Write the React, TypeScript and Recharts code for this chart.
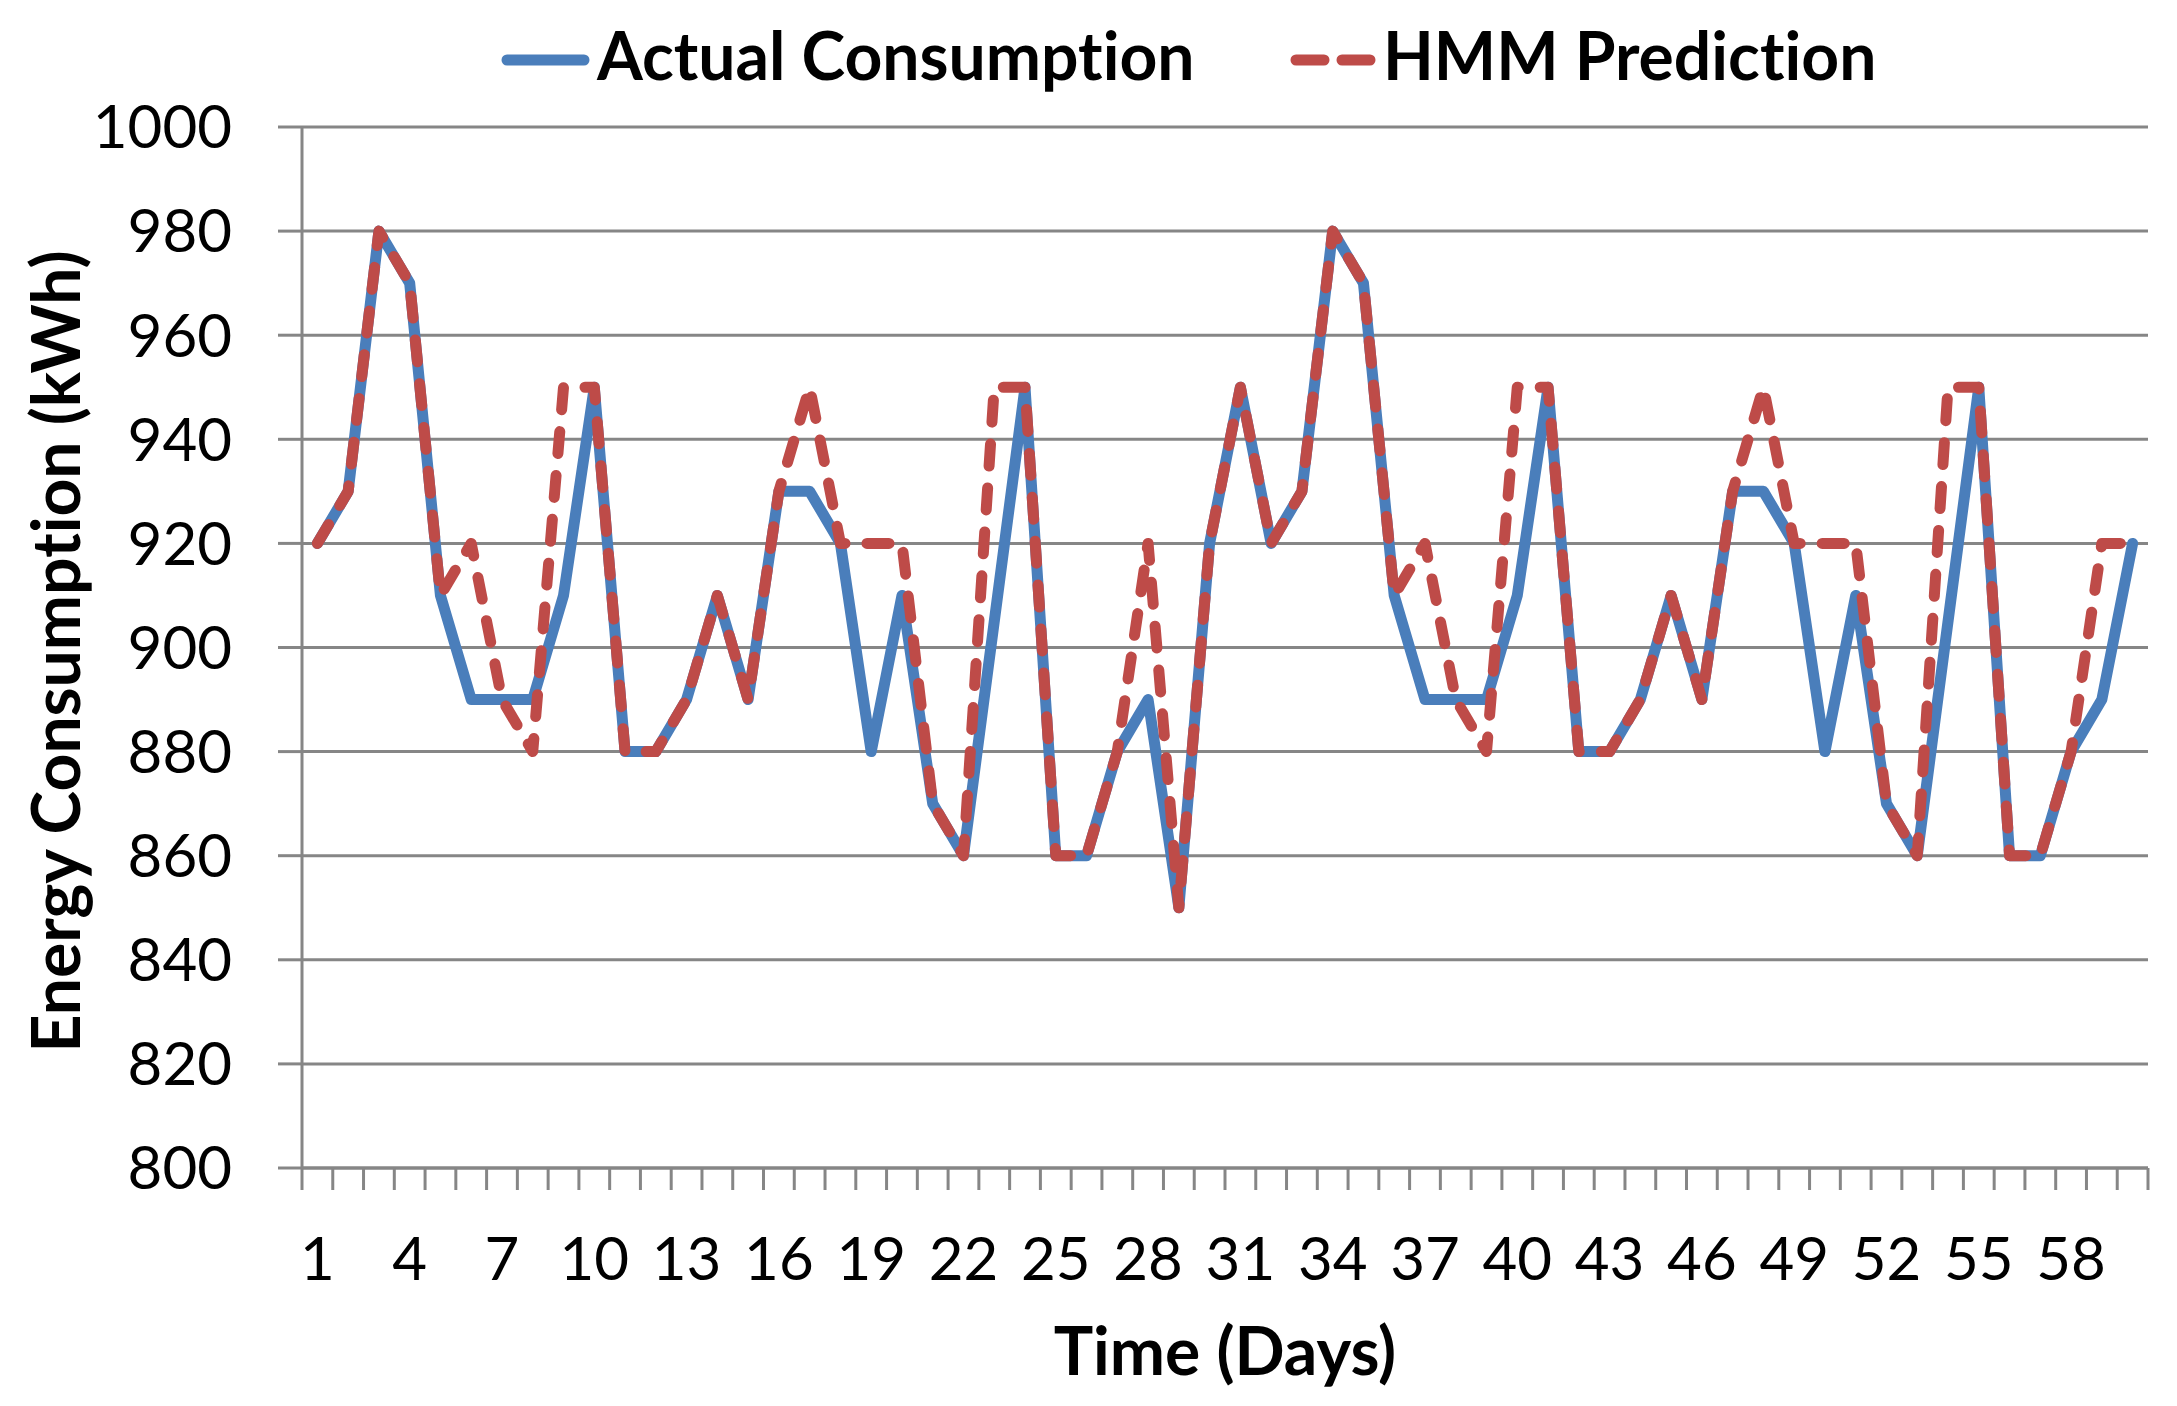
import { LineChart, Line, XAxis, YAxis, CartesianGrid, Label } from 'recharts';

// days 1..60
const days = [
  1, 2, 3, 4, 5, 6, 7, 8, 9, 10, 11, 12, 13, 14, 15, 16, 17, 18, 19, 20,
  21, 22, 23, 24, 25, 26, 27, 28, 29, 30, 31, 32, 33, 34, 35, 36, 37, 38, 39, 40,
  41, 42, 43, 44, 45, 46, 47, 48, 49, 50, 51, 52, 53, 54, 55, 56, 57, 58, 59, 60,
];

const actual = [
  920, 930, 980, 970, 910, 890, 890, 890, 910, 950,
  880, 880, 890, 910, 890, 930, 930, 920, 880, 910,
  870, 860, 905, 950, 860, 860, 880, 890, 850, 920,
  950, 920, 930, 980, 970, 910, 890, 890, 890, 910,
  950, 880, 880, 890, 910, 890, 930, 930, 920, 880,
  910, 870, 860, 905, 950, 860, 860, 880, 890, 920,
];

const hmm = [
  920, 930, 980, 970, 910, 920, 890, 880, 950, 950,
  880, 880, 890, 910, 890, 930, 950, 920, 920, 920,
  870, 860, 950, 950, 860, 860, 880, 920, 850, 920,
  950, 920, 930, 980, 970, 910, 920, 890, 880, 950,
  950, 880, 880, 890, 910, 890, 930, 950, 920, 920,
  920, 870, 860, 950, 950, 860, 860, 880, 920, 920,
];

const dayLabels = [1, 4, 7, 10, 13, 16, 19, 22, 25, 28, 31, 34, 37, 40, 43, 46, 49, 52, 55, 58];
const yTicks = [800, 820, 840, 860, 880, 900, 920, 940, 960, 980, 1000];

const rows = days.map((d, i) => ({ day: d, actual: actual[i], hmm: hmm[i] }));
// tick marks sit between the days, like Excel's category axis
const dayEdges = [0, ...days].map((d) => d + 0.5);

const BLUE = '#4A7EBB';
const RED = '#BE4B48';
const GRID = '#868686';
const FONT = 'Lato, "Open Sans", sans-serif';
const noLig = { fontVariantLigatures: 'none' } as const;

const YTitle = ({ viewBox }: any) => {
  const x = 80;
  const y = viewBox.y + viewBox.height / 2 + 4;
  return (
    <text x={x} y={y} transform={`rotate(-90 ${x} ${y})`} textAnchor="middle" style={noLig}
      fontFamily={FONT} fontWeight="bold" fontSize={66} fill="#000">
      Energy Consumption (kWh)
    </text>
  );
};

export default function App() {
  return (
    <div style={{ position: 'absolute', left: 0, top: 0, width: 2177, height: 1406, background: '#fff' }}>
      {/* legend */}
      <svg width={2177} height={110} style={{ position: 'absolute', left: 0, top: 0 }}>
        <line x1={507} y1={60} x2={584} y2={60} stroke={BLUE} strokeWidth={11} strokeLinecap="round" />
        <text x={597} y={80} style={noLig} fontFamily={FONT} fontWeight="bold" fontSize={66} fill="#000">Actual Consumption</text>
        <line x1={1296} y1={60} x2={1370} y2={60} stroke={RED} strokeWidth={11} strokeLinecap="round" strokeDasharray="28 18" />
        <text x={1383} y={80} style={noLig} fontFamily={FONT} fontWeight="bold" fontSize={66} fill="#000">HMM Prediction</text>
      </svg>

      <LineChart width={2177} height={1406} data={rows} margin={{ top: 127, right: 29, bottom: 0, left: 0 }}
        style={{ fontFamily: FONT }}>
        <CartesianGrid xAxisId="b" vertical={false} stroke={GRID} strokeWidth={3} />
        <XAxis xAxisId="b" dataKey="day" type="number" domain={[0.5, 60.5]} ticks={dayLabels} interval={0}
          axisLine={false} tickLine={false} tickSize={0} tickMargin={45} height={214}
          tick={{ fontSize: 60, fill: '#000', fontFamily: FONT }}>
          <Label value="Time (Days)" position="insideBottom" offset={31}
            style={{ fontSize: 66, fontWeight: 'bold', fill: '#000', fontFamily: FONT }} />
        </XAxis>
        <XAxis xAxisId="a" dataKey="day" type="number" domain={[0.5, 60.5]} ticks={dayEdges} interval={0}
          tickFormatter={() => ''} tickSize={22} height={24}
          axisLine={{ stroke: GRID, strokeWidth: 3 }} tickLine={{ stroke: GRID, strokeWidth: 3 }} />
        <YAxis type="number" domain={[800, 1000]} ticks={yTicks} interval={0} width={302}
          tickSize={24} tickMargin={46}
          axisLine={{ stroke: GRID, strokeWidth: 3 }} tickLine={{ stroke: GRID, strokeWidth: 3 }}
          tick={{ fontSize: 60, fill: '#000', fontFamily: FONT }}>
          <Label content={YTitle} />
        </YAxis>
        <Line xAxisId="b" dataKey="actual" type="linear" stroke={BLUE} strokeWidth={11}
          strokeLinejoin="round" strokeLinecap="round" dot={false} activeDot={false} isAnimationActive={false} />
        <Line xAxisId="b" dataKey="hmm" type="linear" stroke={RED} strokeWidth={11} strokeDasharray="22 22"
          strokeLinejoin="round" strokeLinecap="round" dot={false} activeDot={false} isAnimationActive={false} />
      </LineChart>
    </div>
  );
}
